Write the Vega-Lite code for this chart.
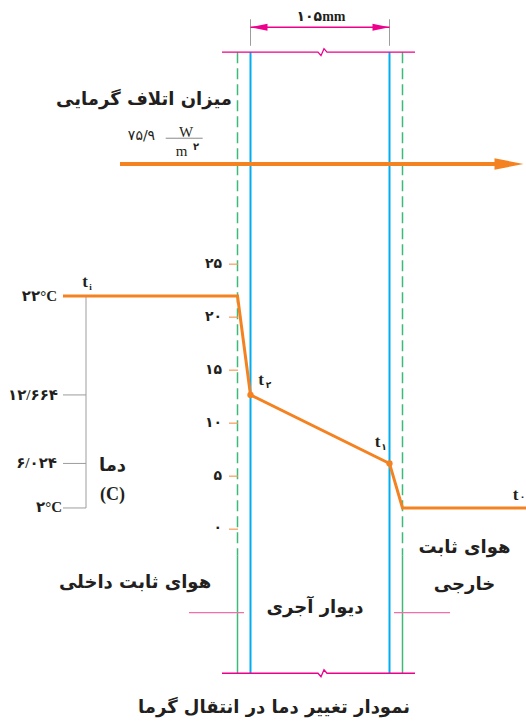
{
  "$schema": "https://vega.github.io/schema/vega-lite/v6.json",
  "width": 526,
  "height": 723,
  "autosize": {"type": "none"},
  "padding": 0,
  "background": "white",
  "config": {"view": {"stroke": null}},
  "datasets": {
    "wall": [
      {"x": 250.5, "x2": 250.5, "t": 45.0, "t2": -13.6},
      {"x": 389.5, "x2": 389.5, "t": 45.0, "t2": -13.6}
    ],
    "filmDash": [
      {"x": 237.5, "x2": 237.5, "t": 45.0, "t2": -2.5},
      {"x": 402.5, "x2": 402.5, "t": 45.0, "t2": -2.5}
    ],
    "filmSolid": [
      {"x": 237.5, "x2": 237.5, "t": -2.5, "t2": -13.6},
      {"x": 402.5, "x2": 402.5, "t": -2.5, "t2": -13.6}
    ],
    "extension": [
      {"x": 250.5, "x2": 250.5, "t": 48.1, "t2": 45.6},
      {"x": 389.5, "x2": 389.5, "t": 48.1, "t2": 45.6}
    ],
    "bracket": [
      {"x": 86, "x2": 86, "t": 22, "t2": 2},
      {"x": 63, "x2": 86, "t": 12.664, "t2": 12.664},
      {"x": 63, "x2": 86, "t": 6.2, "t2": 6.2},
      {"x": 63, "x2": 86, "t": 2, "t2": 2}
    ],
    "pinkShort": [
      {"x": 189, "x2": 244, "t": -7.88, "t2": -7.88},
      {"x": 394, "x2": 450, "t": -7.88, "t2": -7.88}
    ],
    "dim": [
      {"x": 250.5, "x2": 389.5, "t": 47.35, "t2": 47.35}
    ],
    "ticks": [
      {"x": 229, "x2": 238, "t": 0, "t2": 0},
      {"x": 229, "x2": 238, "t": 5, "t2": 5},
      {"x": 229, "x2": 238, "t": 10, "t2": 10},
      {"x": 229, "x2": 238, "t": 15, "t2": 15},
      {"x": 229, "x2": 238, "t": 20, "t2": 20},
      {"x": 229, "x2": 238, "t": 25, "t2": 25}
    ],
    "heat": [
      {"x": 120, "x2": 497, "t": 34.45, "t2": 34.45}
    ],
    "fracLine": [
      {"x": 165.7, "x2": 202.7, "t": 36.88, "t2": 36.88}
    ],
    "breakLines": [
      {"line": "top", "i": 0, "x": 222, "t": 45.0},
      {"line": "top", "i": 1, "x": 318, "t": 45.0},
      {"line": "top", "i": 2, "x": 321, "t": 44.67},
      {"line": "top", "i": 3, "x": 324, "t": 45.33},
      {"line": "top", "i": 4, "x": 327, "t": 45.0},
      {"line": "top", "i": 5, "x": 415, "t": 45.0},
      {"line": "bottom", "i": 0, "x": 222, "t": -13.59},
      {"line": "bottom", "i": 1, "x": 318, "t": -13.59},
      {"line": "bottom", "i": 2, "x": 321, "t": -13.92},
      {"line": "bottom", "i": 3, "x": 324, "t": -13.26},
      {"line": "bottom", "i": 4, "x": 327, "t": -13.59},
      {"line": "bottom", "i": 5, "x": 415, "t": -13.59}
    ],
    "profile": [
      {"i": 0, "x": 63, "t": 22},
      {"i": 1, "x": 237.5, "t": 22},
      {"i": 2, "x": 250.5, "t": 12.664},
      {"i": 3, "x": 389.5, "t": 6.2},
      {"i": 4, "x": 402.5, "t": 2},
      {"i": 5, "x": 526, "t": 2}
    ],
    "nodes": [
      {"x": 250.5, "t": 12.664},
      {"x": 389.5, "t": 6.2}
    ],
    "dimArrowL": [{"x": 259, "t": 47.35}],
    "dimArrowR": [{"x": 381, "t": 47.35}],
    "heatArrow": [{"x": 509, "t": 34.45}],
    "bigText": [
      {"x": 144, "t": 40.49, "label": "میزان اتلاف گرمایی"},
      {"x": 135, "t": -5.09, "label": "هوای ثابت داخلی"},
      {"x": 315, "t": -7.47, "label": "دیوار آجری"},
      {"x": 464.5, "t": -1.77, "label": "هوای ثابت"},
      {"x": 464.5, "t": -5.26, "label": "خارجی"},
      {"x": 112.5, "t": 5.96, "label": "دما"},
      {"x": 274, "t": -16.87, "label": "نمودار تغییر دما در انتقال گرما"}
    ],
    "numCenter": [
      {"x": 321, "t": 48.32, "label": "۱۰۵mm"}
    ],
    "numPlain": [
      {"x": 141.5, "t": 37.09, "label": "۷۵/۹"}
    ],
    "leftLabels": [
      {"x": 57, "t": 22.0, "label": "۲۲°C"},
      {"x": 58, "t": 12.66, "label": "۱۲/۶۶۴"},
      {"x": 57, "t": 6.27, "label": "۶/۰۲۴"},
      {"x": 62, "t": 2.12, "label": "۲°C"}
    ],
    "tickLabels": [
      {"x": 222, "t": 0.1, "label": "۰"},
      {"x": 222, "t": 5, "label": "۵"},
      {"x": 222, "t": 10, "label": "۱۰"},
      {"x": 222, "t": 15, "label": "۱۵"},
      {"x": 222, "t": 20, "label": "۲۰"},
      {"x": 222, "t": 25, "label": "۲۵"}
    ],
    "serifText": [
      {"x": 186, "t": 37.47, "label": "W"},
      {"x": 181.5, "t": 35.68, "label": "m"}
    ],
    "serifBold": [
      {"x": 112.5, "t": 3.23, "label": "(C)"}
    ],
    "supText": [
      {"x": 196, "t": 36.08, "label": "۲"}
    ],
    "tLabels": [
      {"x": 85, "t": 23.35, "label": "t"},
      {"x": 261, "t": 14.08, "label": "t"},
      {"x": 377.5, "t": 8.25, "label": "t"},
      {"x": 515.5, "t": 3.23, "label": "t"}
    ],
    "tSubs": [
      {"x": 90.5, "t": 22.85, "label": "i"},
      {"x": 268.5, "t": 13.6, "label": "۲"},
      {"x": 384, "t": 7.78, "label": "۱"},
      {"x": 522.5, "t": 3.0, "label": "۰"}
    ]
  },
  "encoding": {
    "x": {"field": "x", "type": "quantitative", "scale": {"domain": [0, 526], "nice": false, "zero": false}, "axis": null},
    "y": {"field": "t", "type": "quantitative", "scale": {"domain": [-18.285, 49.92], "nice": false, "zero": false}, "axis": null}
  },
  "layer": [
    {"data": {"name": "filmDash"}, "mark": {"type": "rule", "color": "#3dba7a", "strokeWidth": 1.5, "strokeDash": [11, 5]}, "encoding": {"x2": {"field": "x2"}, "y2": {"field": "t2"}}},
    {"data": {"name": "filmSolid"}, "mark": {"type": "rule", "color": "#3dba7a", "strokeWidth": 1.5}, "encoding": {"x2": {"field": "x2"}, "y2": {"field": "t2"}}},
    {"data": {"name": "wall"}, "mark": {"type": "rule", "color": "#00aeef", "strokeWidth": 2}, "encoding": {"x2": {"field": "x2"}, "y2": {"field": "t2"}}},
    {"data": {"name": "extension"}, "mark": {"type": "rule", "color": "#9d9d9d", "strokeWidth": 1}, "encoding": {"x2": {"field": "x2"}, "y2": {"field": "t2"}}},
    {"data": {"name": "bracket"}, "mark": {"type": "rule", "color": "#9d9d9d", "strokeWidth": 1}, "encoding": {"x2": {"field": "x2"}, "y2": {"field": "t2"}}},
    {"data": {"name": "pinkShort"}, "mark": {"type": "rule", "color": "#f06eaa", "strokeWidth": 1.3}, "encoding": {"x2": {"field": "x2"}, "y2": {"field": "t2"}}},
    {"data": {"name": "dim"}, "mark": {"type": "rule", "color": "#ec008c", "strokeWidth": 1.3}, "encoding": {"x2": {"field": "x2"}, "y2": {"field": "t2"}}},
    {"data": {"name": "ticks"}, "mark": {"type": "rule", "color": "#f79a55", "strokeWidth": 1.2}, "encoding": {"x2": {"field": "x2"}, "y2": {"field": "t2"}}},
    {"data": {"name": "fracLine"}, "mark": {"type": "rule", "color": "#8a8a8a", "strokeWidth": 1}, "encoding": {"x2": {"field": "x2"}, "y2": {"field": "t2"}}},
    {"data": {"name": "breakLines"}, "mark": {"type": "line", "color": "#ec008c", "strokeWidth": 1.3}, "encoding": {"detail": {"field": "line"}, "order": {"field": "i"}}},
    {"data": {"name": "heat"}, "mark": {"type": "rule", "color": "#f58220", "strokeWidth": 4}, "encoding": {"x2": {"field": "x2"}, "y2": {"field": "t2"}}},
    {"data": {"name": "heatArrow"}, "mark": {"type": "point", "shape": "M1,0L-1,-0.4L-1,0.4Z", "size": 841, "filled": true, "color": "#f58220", "opacity": 1, "strokeWidth": 0}},
    {"data": {"name": "dimArrowL"}, "mark": {"type": "point", "shape": "M-1,0L1,-0.42L1,0.42Z", "size": 289, "filled": true, "color": "#ec008c", "opacity": 1, "strokeWidth": 0}},
    {"data": {"name": "dimArrowR"}, "mark": {"type": "point", "shape": "M1,0L-1,-0.42L-1,0.42Z", "size": 289, "filled": true, "color": "#ec008c", "opacity": 1, "strokeWidth": 0}},
    {"data": {"name": "profile"}, "mark": {"type": "line", "color": "#f58220", "strokeWidth": 3, "strokeJoin": "miter"}, "encoding": {"order": {"field": "i"}}},
    {"data": {"name": "nodes"}, "mark": {"type": "point", "shape": "circle", "size": 40, "filled": true, "color": "#f58220", "opacity": 1}},
    {"data": {"name": "bigText"}, "mark": {"type": "text", "font": "DejaVu Sans", "fontWeight": "bold", "fontSize": 18, "color": "#231f20", "align": "center", "baseline": "middle"}, "encoding": {"text": {"field": "label"}}},
    {"data": {"name": "numCenter"}, "mark": {"type": "text", "font": "Liberation Serif, DejaVu Sans", "fontWeight": "bold", "fontSize": 14, "color": "#231f20", "align": "center", "baseline": "middle"}, "encoding": {"text": {"field": "label"}}},
    {"data": {"name": "numPlain"}, "mark": {"type": "text", "font": "DejaVu Sans", "fontSize": 14, "color": "#231f20", "align": "center", "baseline": "middle"}, "encoding": {"text": {"field": "label"}}},
    {"data": {"name": "leftLabels"}, "mark": {"type": "text", "font": "Liberation Serif, DejaVu Sans", "fontWeight": "bold", "fontSize": 15, "color": "#231f20", "align": "right", "baseline": "middle"}, "encoding": {"text": {"field": "label"}}},
    {"data": {"name": "tickLabels"}, "mark": {"type": "text", "font": "DejaVu Sans", "fontWeight": "bold", "fontSize": 14, "color": "#231f20", "align": "right", "baseline": "middle"}, "encoding": {"text": {"field": "label"}}},
    {"data": {"name": "serifText"}, "mark": {"type": "text", "font": "Liberation Serif", "fontSize": 15, "color": "#231f20", "align": "center", "baseline": "middle"}, "encoding": {"text": {"field": "label"}}},
    {"data": {"name": "serifBold"}, "mark": {"type": "text", "font": "Liberation Serif", "fontWeight": "bold", "fontSize": 18, "color": "#231f20", "align": "center", "baseline": "middle"}, "encoding": {"text": {"field": "label"}}},
    {"data": {"name": "supText"}, "mark": {"type": "text", "font": "DejaVu Sans", "fontWeight": "bold", "fontSize": 10, "color": "#231f20", "align": "center", "baseline": "middle"}, "encoding": {"text": {"field": "label"}}},
    {"data": {"name": "tLabels"}, "mark": {"type": "text", "font": "Liberation Serif", "fontWeight": "bold", "fontSize": 17, "color": "#231f20", "align": "center", "baseline": "middle"}, "encoding": {"text": {"field": "label"}}},
    {"data": {"name": "tSubs"}, "mark": {"type": "text", "font": "Liberation Serif, DejaVu Sans", "fontWeight": "bold", "fontSize": 9, "color": "#231f20", "align": "center", "baseline": "middle"}, "encoding": {"text": {"field": "label"}}}
  ]
}
